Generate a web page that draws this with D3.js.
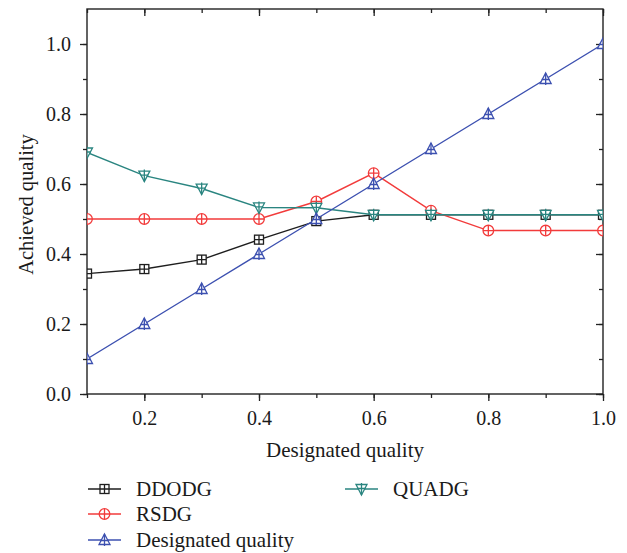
<!DOCTYPE html>
<html>
<head>
<meta charset="utf-8">
<script src="https://cdn.jsdelivr.net/npm/d3@7"></script>
<style>
  html, body { margin: 0; padding: 0; background: #fff; }
  svg { display: block; font-family: "Liberation Serif", "Times New Roman", serif; }
</style>
</head>
<body>
<svg id="chart" width="627" height="553"></svg>
<script>
// Designated quality levels (x) and the achieved quality of each method
const designated = [0.1, 0.2, 0.3, 0.4, 0.5, 0.6, 0.7, 0.8, 0.9, 1.0];
const ddodg      = [0.344, 0.357, 0.384, 0.441, 0.494, 0.512, 0.512, 0.512, 0.512, 0.512];
const rsdg       = [0.50, 0.50, 0.50, 0.50, 0.55, 0.631, 0.524, 0.467, 0.467, 0.467];
const quadg      = [0.69, 0.624, 0.587, 0.533, 0.532, 0.512, 0.512, 0.512, 0.512, 0.512];
const target     = [0.1, 0.2, 0.3, 0.4, 0.5, 0.6, 0.7, 0.8, 0.9, 1.0];

const xTickLabels = [0.2, 0.4, 0.6, 0.8, 1.0];
const yTickLabels = [0.0, 0.2, 0.4, 0.6, 0.8, 1.0];

const series = [
  { name: "DDODG", values: ddodg, color: "#1e1e1e", marker: "square" },
  { name: "RSDG", values: rsdg, color: "#f23b3b", marker: "circle" },
  { name: "QUADG", values: quadg, color: "#2a8580", marker: "triangleDown" },
  { name: "Designated quality", values: target, color: "#3c50b0", marker: "triangleUp" }
];

const svg = d3.select("#chart");
const L = 87, R = 603, T = 9, B = 394;
const x = d3.scaleLinear().domain([0.1, 1.0]).range([L, R]);
const y = d3.scaleLinear().domain([0, 1.1]).range([B, T]);

const fmt = d3.format(".1f");
const minorX = d3.range(1, 11).map(i => i / 10);
const minorY = d3.range(0, 11).map(i => i / 10);

// Outer axes with outward ticks
svg.append("g").attr("transform", `translate(0,${B})`)
  .call(d3.axisBottom(x).tickValues(minorX).tickSize(4).tickFormat(""));
svg.append("g").attr("transform", `translate(0,${B})`)
  .call(d3.axisBottom(x).tickValues(xTickLabels).tickSize(7).tickPadding(10).tickFormat(fmt));

svg.append("g").attr("transform", `translate(${L},0)`)
  .call(d3.axisLeft(y).tickValues(minorY).tickSize(4).tickFormat(""));
svg.append("g").attr("transform", `translate(${L},0)`)
  .call(d3.axisLeft(y).tickValues(yTickLabels).tickSize(7).tickPadding(9).tickFormat(fmt));

// Mirror axes on top and right with inward ticks
svg.append("g").attr("transform", `translate(0,${T})`)
  .call(d3.axisBottom(x).tickValues(minorX).tickSize(4).tickFormat(""));
svg.append("g").attr("transform", `translate(0,${T})`)
  .call(d3.axisBottom(x).tickValues(xTickLabels).tickSize(7).tickFormat(""));
svg.append("g").attr("transform", `translate(${R},0)`)
  .call(d3.axisLeft(y).tickValues(minorY).tickSize(4).tickFormat(""));
svg.append("g").attr("transform", `translate(${R},0)`)
  .call(d3.axisLeft(y).tickValues(yTickLabels).tickSize(7).tickFormat(""));

svg.selectAll(".domain").remove();
svg.selectAll(".tick line").attr("stroke", "#222").attr("stroke-width", 1.3);
svg.selectAll(".tick text").attr("font-size", 20).attr("fill", "#1a1a1a")
  .attr("font-family", "Liberation Serif, serif");

// Frame
svg.append("rect").attr("x", L).attr("y", T).attr("width", R - L).attr("height", B - T)
  .attr("fill", "none").attr("stroke", "#222").attr("stroke-width", 1.4);

// Axis titles
svg.append("text").attr("x", (L + R) / 2).attr("y", 457).attr("text-anchor", "middle")
  .attr("font-size", 21).attr("fill", "#1a1a1a").text("Designated quality");
svg.append("text").attr("transform", `translate(33,${(T + B) / 2 + 3}) rotate(-90)`)
  .attr("text-anchor", "middle").attr("font-size", 20.5).attr("fill", "#1a1a1a").text("Achieved quality");

// Marker drawing: outline shape with a cross through its centre
function drawMarker(g, type, cx, cy, color) {
  const m = g.append("g").attr("transform", `translate(${cx},${cy})`)
    .attr("fill", "none").attr("stroke", color).attr("stroke-width", 1.3);
  if (type === "square") {
    m.append("rect").attr("x", -4.5).attr("y", -4.5).attr("width", 9).attr("height", 9).attr("fill", "#fff");
    m.append("path").attr("d", "M-4.5,0H4.5M0,-4.5V4.5");
  } else if (type === "circle") {
    m.append("circle").attr("r", 5.3).attr("fill", "#fff");
    m.append("path").attr("d", "M-5.3,0H5.3M0,-5.3V5.3");
  } else if (type === "triangleUp") {
    m.append("path").attr("d", "M0,-6L5.5,4.5H-5.5Z").attr("fill", "#fff");
    m.append("path").attr("d", "M0,-6V6M-4,0.5H4");
  } else if (type === "triangleDown") {
    m.append("path").attr("d", "M0,6L5.5,-4.5H-5.5Z").attr("fill", "#fff");
    m.append("path").attr("d", "M0,-6V6M-4,-0.5H4");
  }
}

// Plot area clip
svg.append("clipPath").attr("id", "plotClip").append("rect")
  .attr("x", L).attr("y", T).attr("width", R - L).attr("height", B - T);
const plot = svg.append("g").attr("clip-path", "url(#plotClip)");

const line = d3.line().x((d, i) => x(designated[i])).y(d => y(d));
series.forEach(s => {
  const g = plot.append("g");
  g.append("path").datum(s.values).attr("d", line)
    .attr("fill", "none").attr("stroke", s.color).attr("stroke-width", 1.4);
  s.values.forEach((v, i) => drawMarker(g, s.marker, x(designated[i]), y(v), s.color));
});

// Legend
const legendItems = [
  { s: series[0], lx: 88, ly: 489 },
  { s: series[1], lx: 88, ly: 514 },
  { s: series[3], lx: 88, ly: 540 },
  { s: series[2], lx: 345, ly: 489 }
];
legendItems.forEach(({ s, lx, ly }) => {
  const g = svg.append("g");
  g.append("line").attr("x1", lx).attr("x2", lx + 33).attr("y1", ly).attr("y2", ly)
    .attr("stroke", s.color).attr("stroke-width", 1.4);
  drawMarker(g, s.marker, lx + 16.5, ly, s.color);
  g.append("text").attr("x", lx + 48).attr("y", ly + 7).attr("font-size", 21)
    .attr("fill", "#1a1a1a").text(s.name);
});
</script>
</body>
</html>
